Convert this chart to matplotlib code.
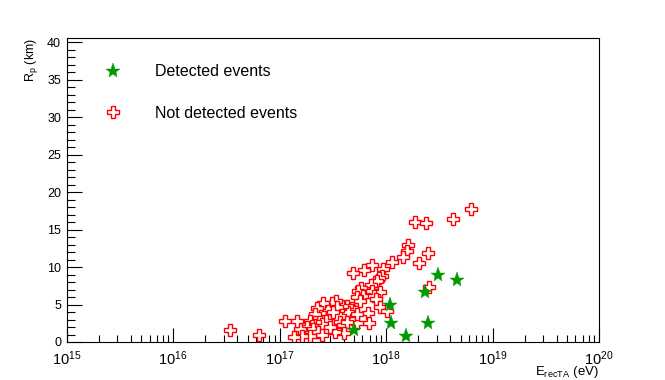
import numpy as np
import matplotlib
matplotlib.use("Agg")
import matplotlib.pyplot as plt
from matplotlib.ticker import MultipleLocator, LogLocator, NullFormatter

plt.rcParams["font.family"] = ["Liberation Sans", "DejaVu Sans"]
plt.rcParams["mathtext.fontset"] = "custom"
plt.rcParams["mathtext.rm"] = "Liberation Sans"

# detected events (energy in eV, Rp in km)
det_E = [4.99e17, 1.09e18, 1.10e18, 1.53e18, 2.31e18, 2.47e18, 3.06e18, 4.59e18]
det_R = [1.64, 4.99, 2.49, 0.84, 6.72, 2.58, 9.0, 8.33]

# not detected events
nd_E = [6.21e18, 4.21e18, 1.875e18, 2.36e18, 1.59e18, 1.556e18, 1.449e18, 2.45e18,
        2.03e18, 1.14e18, 9.39e17, 7.4e17, 6.15e17, 4.91e17, 9.08e17, 8.55e17,
        8.15e17, 7.15e17, 2.51e18, 5.84e17, 5.47e17, 6.02e17, 5.28e17, 7.4e17,
        8.75e17, 7.68e17, 8.02e17, 5.68e17, 8.75e17, 1.03e18, 6.79e17, 6.94e17,
        5.28e17, 4.91e17, 4.74e17, 4.26e17, 4.41e17, 3.82e17, 3.38e17, 3.08e17,
        3.43e17, 2.86e17, 2.57e17, 2.22e17, 2.14e17, 2.86e17, 2.72e17, 2.48e17,
        2.14e17, 1.93e17, 2.0e17, 1.79e17, 2.07e17, 1.55e17, 2.30e17, 2.48e17,
        1.93e17, 1.61e17, 1.36e17, 3.68e17, 3.95e17, 4.26e17, 4.02e17, 3.30e17,
        2.97e17, 3.15e17, 5.28e17, 3.41e16, 6.43e16, 1.13e17, 1.445e17]
nd_R = [17.78, 16.39, 16.04, 15.86, 13.0, 12.11, 11.4, 11.84,
        10.6, 10.7, 9.8, 10.33, 9.63, 9.17, 8.86, 8.56,
        8.2, 7.66, 7.3, 7.17, 6.76, 6.19, 5.96, 6.86,
        6.63, 6.19, 5.75, 5.43, 4.72, 4.18, 3.82, 2.49,
        2.49, 4.18, 4.49, 4.85, 3.96, 4.85, 5.52, 5.16,
        4.72, 4.41, 5.25, 4.55, 3.74, 3.29, 2.85, 2.41,
        2.62, 2.85, 2.18, 1.95, 1.74, 1.74, 1.28, 0.98,
        0.84, 0.84, 0.62, 2.62, 2.31, 2.62, 1.15, 1.28,
        1.95, 3.96, 3.74, 1.64, 0.94, 2.85, 2.75]

fig = plt.figure(figsize=(6.65, 3.8), dpi=100)
ax = fig.add_axes([0.1003, 0.1, 0.8005, 0.8013])

ax.plot(nd_E, nd_R, linestyle="none", marker="P", markersize=8.5,
        markerfacecolor="white", markeredgecolor="red", markeredgewidth=1.0,
        label="Not detected events")
ax.plot(det_E, det_R, linestyle="none", marker="*", markersize=11,
        color="#009900", markeredgewidth=0.3, label="Detected events")

ax.set_xscale("log")
ax.set_xlim(1e15, 1e20)
ax.set_ylim(0, 40.6)

ax.yaxis.set_major_locator(MultipleLocator(5))
ax.yaxis.set_minor_locator(MultipleLocator(1))
ax.xaxis.set_major_locator(LogLocator(base=10, numticks=10))
ax.xaxis.set_minor_locator(LogLocator(base=10, subs=np.arange(2, 10), numticks=20))
ax.xaxis.set_minor_formatter(NullFormatter())

ax.tick_params(axis="both", which="both", direction="in", width=0.8)
ax.tick_params(axis="y", which="major", length=11, pad=4, labelsize=9)
ax.tick_params(axis="y", which="minor", length=6)
ax.tick_params(axis="x", which="major", length=10, pad=5, labelsize=10.5)
ax.tick_params(axis="x", which="minor", length=5)

for s in ax.spines.values():
    s.set_linewidth(0.8)

ax.set_ylabel("R$_\\mathrm{p}$ (km)", fontsize=9, ha="right")
ax.yaxis.set_label_coords(-0.05, 1.0)
ax.set_xlabel("E$_\\mathrm{recTA}$ (eV)", fontsize=9.5, ha="right")
ax.xaxis.set_label_coords(1.0, -0.072)

h, l = ax.get_legend_handles_labels()
ax.legend(h[::-1], l[::-1], loc="upper left", bbox_to_anchor=(0.057, 0.912),
          frameon=False, fontsize=11.5, numpoints=1, handlelength=2.0,
          handletextpad=1.6, labelspacing=1.65, borderpad=0, borderaxespad=0)

plt.savefig("out.png", dpi=100)
plt.close()
